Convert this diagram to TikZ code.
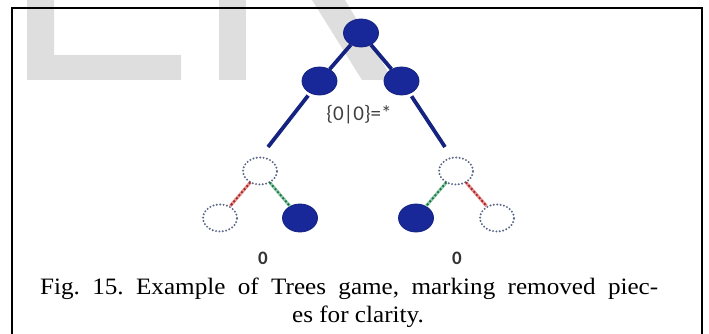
\documentclass[tikz,border=0pt]{standalone}
\usepackage{fontspec}
\setmainfont{Liberation Serif}[FakeStretch=1.07]
\newfontfamily\gamefont{Carlito}
\usetikzlibrary{shapes.geometric}
\frenchspacing

\definecolor{piecefill}{RGB}{24,40,152}
\definecolor{stemblue}{RGB}{20,34,128}
\definecolor{ghostdot}{RGB}{92,104,136}
\definecolor{cutred}{RGB}{214,52,52}
\definecolor{keepgreen}{RGB}{46,160,96}
\definecolor{markgray}{RGB}{222,222,222}

\begin{document}
\begin{tikzpicture}[x=1pt, y=-1pt,
  piece/.style={ellipse, fill=piecefill, draw=stemblue, line width=0.8pt, minimum width=35pt, minimum height=28pt, inner sep=0pt},
  ghost/.style={ellipse, draw=ghostdot, line width=2.2pt, dash pattern=on 0pt off 3.4pt, line cap=round, minimum width=34pt, minimum height=27pt, inner sep=0pt},
  stem/.style={stemblue, line width=3.8pt},
  cutline/.style={cutred!75!black, line width=2.6pt, dash pattern=on 0pt off 4pt, line cap=round, preaction={draw, cutred!55, line width=3pt, solid}},
  keepline/.style={keepgreen!70!black, line width=2.6pt, dash pattern=on 0pt off 4pt, line cap=round, preaction={draw, keepgreen!55, line width=3pt, solid}},
  tag/.style={font=\gamefont\fontsize{21}{21}\selectfont, text=black!75},
  score/.style={font=\gamefont\bfseries\fontsize{19}{19}\selectfont, text=black!80},
  caption/.style={font=\fontsize{23.5}{28}\selectfont, anchor=base, inner sep=0pt}
]
  \useasboundingbox (0,0) rectangle (709,334);

  % watermark letters behind the frame
  \fill[markgray] (27,0) -- (54,0) -- (54,55) -- (181,55) -- (181,80) -- (27,80) -- cycle;
  \fill[markgray] (219,0) rectangle (246,80);
  \fill[markgray] (312,0) -- (345,0) -- (393,80) -- (362,80) -- cycle;

  \draw[line width=2pt] (12,334) -- (12,8) -- (702,8) -- (702,334);

  \node[piece] (root) at (361,33) {};
  \node[piece] (ml) at (319.5,81) {};
  \node[piece] (mr) at (401.5,81) {};

  \node[ghost] (lt) at (260,171) {};
  \node[ghost] (ll) at (220,218) {};
  \node[piece] (lf) at (300,218) {};
  \node[ghost] (rt) at (456,171) {};
  \node[piece] (rf) at (416,218) {};
  \node[ghost] (rr) at (497,218) {};

  \coordinate (lend) at (268,147);
  \coordinate (rend) at (445,147);

  \draw[stem] (root) -- (ml);
  \draw[stem] (root) -- (mr);
  \draw[stem, shorten <=3pt] (ml) -- (lend);
  \draw[stem, shorten <=3pt] (mr) -- (rend);

  \draw[cutline] (lt) -- (ll);
  \draw[keepline] (lt) -- (lf);
  \draw[keepline] (rt) -- (rf);
  \draw[cutline] (rt) -- (rr);

  \node[tag] (sum) at (359,115) {\{0|0\}=*};
  \node[score] (lval) at (263,258) {0};
  \node[score] (rval) at (457,258) {0};

  \node[caption, anchor=base west] (cap1) at (40,294)
    {\makebox[618pt][s]{Fig. 15. Example of Trees game, marking removed piec-}};
  \node[caption] (cap2) at (358,322) {es for clarity.};
\end{tikzpicture}
\end{document}
